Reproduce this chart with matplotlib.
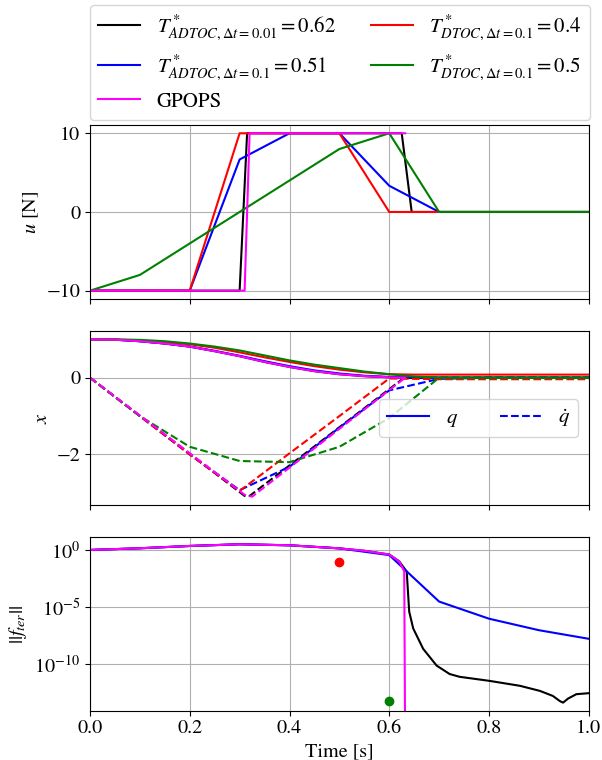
import numpy as np
import matplotlib
matplotlib.use("Agg")
import matplotlib.pyplot as plt

plt.rcParams['font.family'] = 'serif'
plt.rcParams['font.serif'] = ['STIXGeneral', 'Liberation Serif', 'DejaVu Serif']
plt.rcParams['mathtext.fontset'] = 'stix'
plt.rcParams['font.size'] = 14.5

# ---- control u [N] ----
t_coarse = [0.0, 0.1, 0.2, 0.3, 0.4, 0.5, 0.6, 0.7, 0.8, 0.9, 1.0]
u_adtoc_01 = [-10, -10, -10, 6.67, 10, 10, 3.33, 0, 0, 0, 0]
u_dtoc_04 = [-10, -10, -10, 10, 10, 10, 0, 0, 0, 0, 0]
u_dtoc_05 = [-10, -8, -4, 0, 4, 8, 10, 0, 0, 0, 0]
t_u_adtoc_001 = [0.0, 0.30, 0.315, 0.625, 0.645, 1.0]
u_adtoc_001 = [-10, -10, 10, 10, 0, 0]
t_u_gpops = [0.0, 0.31, 0.32, 0.632]
u_gpops = [-10, -10, 10, 10]

# ---- states q (solid) ----
t_fine = [0.0, 0.05, 0.1, 0.15, 0.2, 0.25, 0.3, 0.35, 0.4, 0.45, 0.5,
          0.55, 0.6, 0.65, 0.7, 1.0]
q_adtoc_001 = [1.0, 0.99, 0.95, 0.89, 0.81, 0.69, 0.56, 0.41, 0.28, 0.17, 0.09,
               0.04, 0.01, 0.0, 0.0, 0.0]
q_adtoc_01 = [1.0, 0.99, 0.95, 0.89, 0.81, 0.70, 0.57, 0.43, 0.30, 0.19, 0.11,
              0.05, 0.02, 0.005, 0.0, 0.0]
q_dtoc_04 = [1.0, 0.995, 0.97, 0.93, 0.87, 0.78, 0.66, 0.53, 0.41, 0.30, 0.21,
             0.14, 0.09, 0.08, 0.08, 0.08]
q_dtoc_05 = [1.0, 0.998, 0.985, 0.95, 0.89, 0.81, 0.71, 0.58, 0.45, 0.34, 0.25,
             0.16, 0.09, 0.03, 0.0, 0.0]
t_q_gpops = [0.0, 0.05, 0.1, 0.15, 0.2, 0.25, 0.3, 0.35, 0.4, 0.45, 0.5,
             0.55, 0.6, 0.632]
q_gpops = [1.0, 0.99, 0.95, 0.89, 0.81, 0.69, 0.56, 0.41, 0.28, 0.17, 0.09,
           0.04, 0.01, 0.0]

# ---- states qdot (dashed) ----
qd_adtoc_01 = [0, -1.0, -2.0, -2.93, -2.32, -1.3, -0.33, -0.03, 0, 0, 0]
qd_dtoc_04 = [0, -1.0, -2.0, -2.95, -1.97, -1.0, -0.02, -0.04, -0.04, -0.04, -0.04]
qd_dtoc_05 = [0, -1.0, -1.8, -2.17, -2.2, -1.8, -1.05, 0, 0, 0, 0]
t_qd_adtoc_001 = [0.0, 0.31, 0.32, 0.63, 1.0]
qd_adtoc_001 = [0, -3.08, -3.08, 0, 0]
t_qd_gpops = [0.0, 0.31, 0.325, 0.632]
qd_gpops = [0, -3.05, -3.1, 0]

# ---- terminal residual ||f_ter|| ----
t_f_adtoc_001 = [0.0, 0.1, 0.2, 0.3, 0.4, 0.5, 0.55, 0.6, 0.62, 0.635, 0.640,
                 0.648, 0.668, 0.695, 0.721, 0.741, 0.80, 0.862, 0.902, 0.928,
                 0.942, 0.9485, 0.9585, 0.975, 1.0]
f_adtoc_001 = [1.0, 1.41, 2.24, 3.16, 2.57, 1.38, 0.85, 0.4, 0.1, 1.26e-2, 3.9e-6,
               1.3e-7, 2.1e-9, 7.1e-11, 1.3e-11, 7.4e-12, 3.3e-12, 1.2e-12, 4.3e-13,
               1.55e-13, 5.5e-14, 4.0e-14, 9.1e-14, 2.2e-13, 2.7e-13]
f_adtoc_01 = [1.0, 1.41, 2.24, 3.16, 2.57, 1.38, 0.355, 2.95e-5, 9.3e-7, 9.1e-8, 1.6e-8]
t_f_gpops = [0.0, 0.1, 0.2, 0.3, 0.4, 0.5, 0.55, 0.6, 0.62, 0.63, 0.632]
f_gpops = [1.0, 1.41, 2.24, 3.16, 2.57, 1.38, 0.85, 0.4, 0.1, 1.35e-2, 1e-18]
t_f_dtoc_04 = [0.5]
f_dtoc_04 = [0.091]
t_f_dtoc_05 = [0.6]
f_dtoc_05 = [5.5e-14]

labels = [r'$T^*_{ADTOC,\Delta t=0.01}=0.62$',
          r'$T^*_{ADTOC,\Delta t=0.1}=0.51$',
          'GPOPS',
          r'$T^*_{DTOC,\Delta t=0.1}=0.4$',
          r'$T^*_{DTOC,\Delta t=0.1}=0.5$']

lw = 1.5
fig, (ax1, ax2, ax3) = plt.subplots(3, 1, sharex=True, figsize=(6.02, 7.6), dpi=100)
fig.subplots_adjust(left=0.1495, right=0.978, top=0.835, bottom=0.065, hspace=0.19)

# panel 1
h_black, = ax1.plot(t_u_adtoc_001, u_adtoc_001, color='black', lw=lw)
h_blue, = ax1.plot(t_coarse, u_adtoc_01, color='blue', lw=lw)
h_red, = ax1.plot(t_coarse, u_dtoc_04, color='red', lw=lw)
h_green, = ax1.plot(t_coarse, u_dtoc_05, color='green', lw=lw)
h_mag, = ax1.plot(t_u_gpops, u_gpops, color='magenta', lw=lw)
ax1.set_ylabel('$u$ [N]')
ax1.set_yticks([-10, 0, 10])
ax1.grid(True)

# panel 2
ax2.plot(t_fine, q_adtoc_001, color='black', lw=lw)
ax2.plot(t_qd_adtoc_001, qd_adtoc_001, color='black', lw=lw, ls='--')
ax2.plot(t_fine, q_adtoc_01, color='blue', lw=lw)
ax2.plot(t_coarse, qd_adtoc_01, color='blue', lw=lw, ls='--')
ax2.plot(t_fine, q_dtoc_04, color='red', lw=lw)
ax2.plot(t_coarse, qd_dtoc_04, color='red', lw=lw, ls='--')
ax2.plot(t_fine, q_dtoc_05, color='green', lw=lw)
ax2.plot(t_coarse, qd_dtoc_05, color='green', lw=lw, ls='--')
ax2.plot(t_q_gpops, q_gpops, color='magenta', lw=lw)
ax2.plot(t_qd_gpops, qd_gpops, color='magenta', lw=lw, ls='--')
ax2.set_ylabel('$x$')
ax2.set_yticks([-2, 0])
ax2.grid(True)
hq, = ax2.plot([], [], color='blue', lw=lw)
hqd, = ax2.plot([], [], color='blue', lw=lw, ls='--')
ax2.legend([hq, hqd], ['$q$', r'$\dot{q}$'], loc='center right', ncol=2,
           fontsize=15)

# panel 3
ax3.plot(t_f_adtoc_001, f_adtoc_001, color='black', lw=lw)
ax3.plot(t_coarse, f_adtoc_01, color='blue', lw=lw)
ax3.plot(t_f_dtoc_04, f_dtoc_04, 'o', color='red')
ax3.plot(t_f_dtoc_05, f_dtoc_05, 'o', color='green')
ax3.plot(t_f_gpops, f_gpops, color='magenta', lw=lw)
ax3.set_yscale('log')
ax3.set_ylim(8e-15, 12.5)
ax3.set_yticks([1, 1e-5, 1e-10])
ax3.minorticks_off()
ax3.set_ylabel('$||f_{ter}||$')
ax3.set_xlabel('Time [s]')
ax3.set_xlim(0, 1)
ax3.grid(True)

fig.legend([h_black, h_blue, h_mag, h_red, h_green], labels, ncol=2,
           loc='upper left', mode='expand', borderaxespad=0, fontsize=15,
           bbox_to_anchor=(0.1495, 0.845, 0.8306, 0.148))

fig.savefig('out.png', dpi=100)
